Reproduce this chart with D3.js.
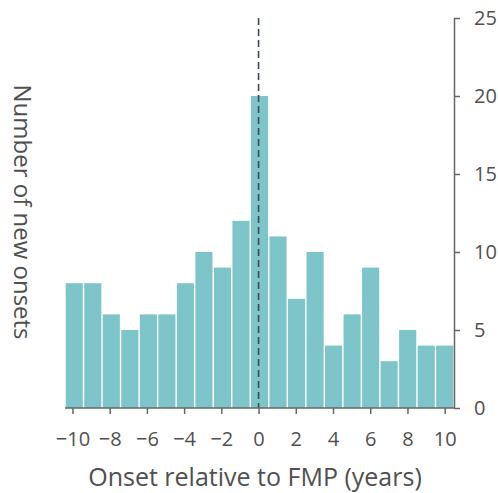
<!DOCTYPE html>
<html>
<head>
<meta charset="utf-8">
<script src="https://cdn.jsdelivr.net/npm/d3@7"></script>
<style>
  html, body { margin: 0; padding: 0; background: #fff; }
  svg { display: block; }
  text { font-family: "Open Sans", sans-serif; fill: #505050; }
</style>
</head>
<body>
<svg id="chart" width="498" height="493"></svg>
<script>
// Years relative to FMP (one bar per year)
const years = [-10, -9, -8, -7, -6, -5, -4, -3, -2, -1, 0, 1, 2, 3, 4, 5, 6, 7, 8, 9, 10];
// Number of new onsets in each year
const onsets = [8, 8, 6, 5, 6, 6, 8, 10, 9, 12, 20, 11, 7, 10, 4, 6, 9, 3, 5, 4, 4];
const xTicks = [-10, -8, -6, -4, -2, 0, 2, 4, 6, 8, 10];
const yTicks = [0, 5, 10, 15, 20, 25];
const xTitle = "Onset relative to FMP (years)";
const yTitle = "Number of new onsets";

const svg = d3.select("#chart");
const barColor = "#7ec5c9";
const axisColor = "#666";

const x = d3.scaleLinear().domain([-10.4, 10.5]).range([65, 454]);
const y = d3.scaleLinear().domain([0, 25]).range([408, 18]);

// Bin edges span the full x extent, one bin per year
const binW = (10.5 - (-10.4)) / years.length;
const bars = years.map((yr, i) => ({ yr, n: onsets[i], x0: -10.4 + i * binW, x1: -10.4 + (i + 1) * binW }));

svg.append("g").selectAll("rect")
  .data(bars)
  .join("rect")
  .attr("x", d => x(d.x0) + 0.7)
  .attr("width", d => x(d.x1) - x(d.x0) - 1.4)
  .attr("y", d => y(d.n))
  .attr("height", d => y(0) - y(d.n))
  .attr("fill", barColor);

// Dashed reference line at year 0
svg.append("line")
  .attr("x1", x(0)).attr("x2", x(0))
  .attr("y1", y(25)).attr("y2", y(0))
  .attr("stroke", "#3d4a50")
  .attr("stroke-width", 1.6)
  .attr("stroke-dasharray", "7,4");

// Bottom axis
const gx = svg.append("g")
  .attr("transform", `translate(0,${y(0)})`)
  .call(d3.axisBottom(x).tickValues(xTicks).tickSize(6).tickSizeOuter(0).tickPadding(18));
gx.select(".domain").remove();
gx.append("line")
  .attr("x1", x(-10.4)).attr("x2", x(10.5))
  .attr("stroke", axisColor).attr("stroke-width", 1.5);
gx.selectAll(".tick line").attr("stroke", axisColor).attr("stroke-width", 1.5);
gx.selectAll(".tick text").style("font-size", "20px").attr("fill", "#505050");

// Right axis
const gy = svg.append("g")
  .attr("transform", `translate(${x(10.5)},0)`)
  .call(d3.axisRight(y).tickValues(yTicks).tickSize(6).tickSizeOuter(0).tickPadding(14));
gy.select(".domain").attr("stroke", axisColor).attr("stroke-width", 1.5);
gy.selectAll(".tick line").attr("stroke", axisColor).attr("stroke-width", 1.5);
gy.selectAll(".tick text").style("font-size", "20px").attr("fill", "#505050");

// Axis titles
svg.append("text")
  .attr("x", 255).attr("y", 486)
  .attr("text-anchor", "middle")
  .style("font-size", "25px")
  .text(xTitle);

svg.append("text")
  .attr("transform", "translate(14,212) rotate(90)")
  .attr("text-anchor", "middle")
  .style("font-size", "24px")
  .text(yTitle);
</script>
</body>
</html>
